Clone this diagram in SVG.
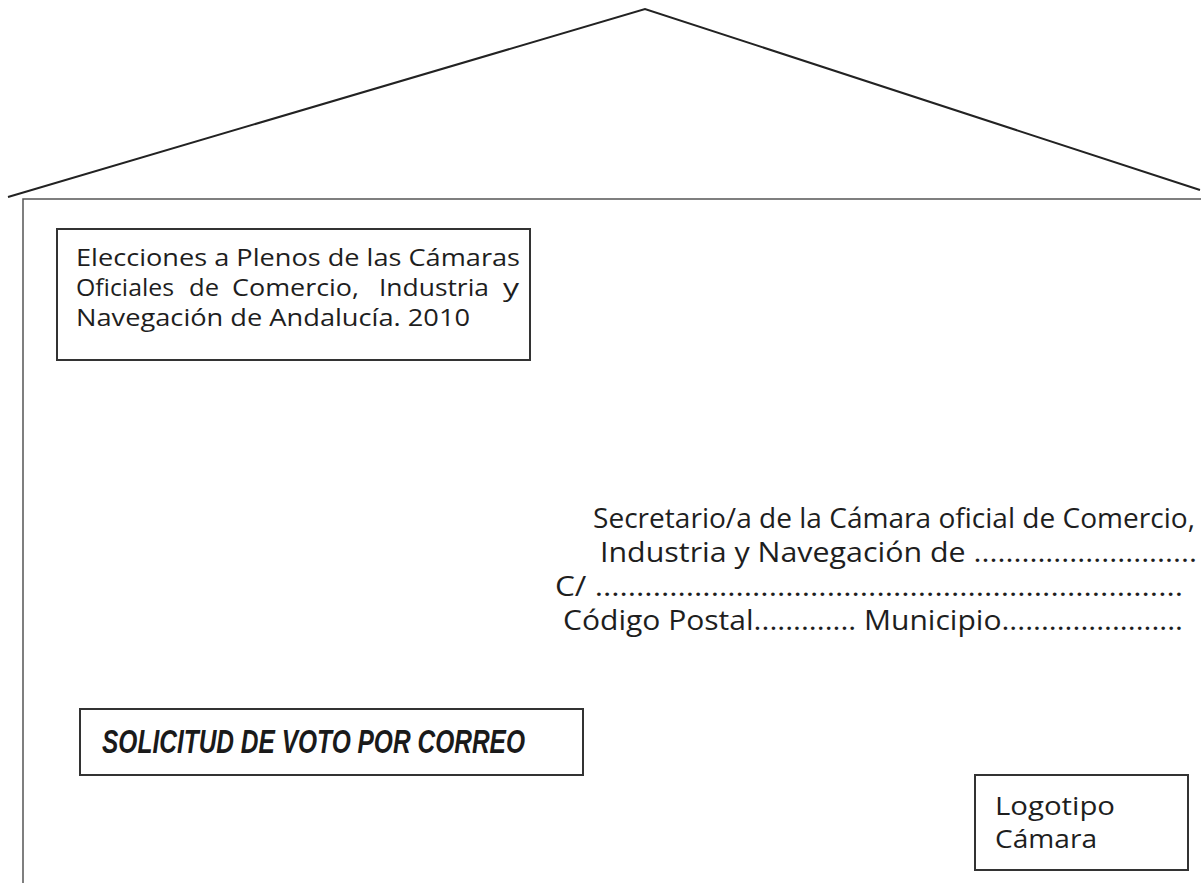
<svg xmlns="http://www.w3.org/2000/svg" width="1201" height="883" viewBox="0 0 1201 883">
<style>
.roof{fill:none;stroke:#222;stroke-width:2}
.env{fill:none;stroke:#555;stroke-width:1.5}
.box{fill:#fff;stroke:#333;stroke-width:2}
.t{font-family:"Open Sans","Noto Sans","DejaVu Sans",sans-serif;fill:#1e1e1e}
.b{font-size:24px;font-weight:500}
.a{font-size:27px}
.s{font-family:"Liberation Sans",Arial,sans-serif;font-weight:bold;font-style:italic;fill:#1a1a1a;font-size:33px}
</style>
<rect width="1201" height="883" fill="#fff"/>
<g id="envelope">
<polyline class="roof" points="8,197 645,9 1200,190"/>
<polyline class="env" points="1201,199 23,199 23,883"/>
</g>
<g id="connectors"></g>
<g id="titulo">
<rect class="box" x="57" y="229" width="473" height="131"/>
<text class="t b" x="76" y="266" textLength="444" lengthAdjust="spacingAndGlyphs">Elecciones a Plenos de las Cámaras</text>
<text class="t b" y="296"><tspan x="76" textLength="98" lengthAdjust="spacingAndGlyphs">Oficiales</tspan><tspan x="189" textLength="30" lengthAdjust="spacingAndGlyphs">de</tspan><tspan x="232" textLength="127" lengthAdjust="spacingAndGlyphs">Comercio,</tspan><tspan x="379" textLength="110" lengthAdjust="spacingAndGlyphs">Industria</tspan><tspan x="503" textLength="16" lengthAdjust="spacingAndGlyphs">y</tspan></text>
<text class="t b" x="76" y="326" textLength="394" lengthAdjust="spacingAndGlyphs">Navegación de Andalucía. 2010</text>
</g>
<g id="direccion">
<text class="t a" x="593" y="528" textLength="602" lengthAdjust="spacingAndGlyphs">Secretario/a de la Cámara oficial de Comercio,</text>
<text class="t a" x="600" y="562" textLength="597" lengthAdjust="spacingAndGlyphs">Industria y Navegación de ............................</text>
<text class="t a" x="555" y="596" textLength="628" lengthAdjust="spacingAndGlyphs">C/ .......................................................................</text>
<text class="t a" x="563" y="630" textLength="620" lengthAdjust="spacingAndGlyphs">Código Postal............. Municipio.......................</text>
</g>
<g id="solicitud">
<rect class="box" x="80" y="709" width="503" height="66"/>
<text class="s" x="102" y="753" textLength="423" lengthAdjust="spacingAndGlyphs">SOLICITUD DE VOTO POR CORREO</text>
</g>
<g id="logotipo">
<rect class="box" x="975" y="775" width="213" height="95"/>
<text class="t" font-size="25" x="995" y="815" textLength="120" lengthAdjust="spacingAndGlyphs">Logotipo</text>
<text class="t" font-size="25" x="995" y="848" textLength="102" lengthAdjust="spacingAndGlyphs">Cámara</text>
</g>
</svg>
